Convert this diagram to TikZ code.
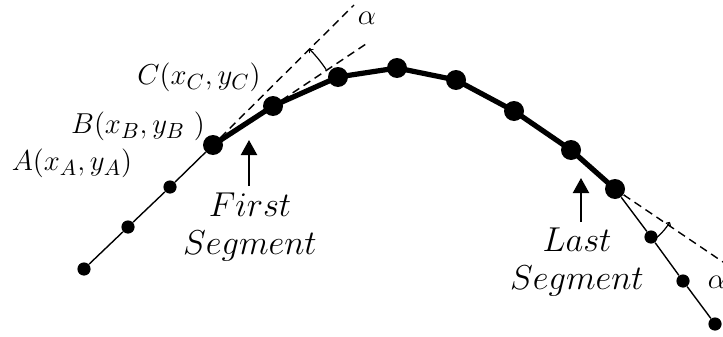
\documentclass[tikz,border=0pt]{standalone}
\usepackage{amsmath}
\usetikzlibrary{arrows.meta}

\begin{document}
\begin{tikzpicture}[
  x=0.5pt, y=-0.5pt,
  font=\fontsize{15}{19}\selectfont,
  bigdot/.style={circle, fill=black, inner sep=0pt, minimum width=9.5pt, minimum height=10pt},
  smalldot/.style={circle, fill=black, inner sep=0pt, minimum width=6pt, minimum height=6.6pt},
  thick seg/.style={line width=2.6pt, line cap=round, line join=round},
  thin seg/.style={line width=0.7pt},
  tangent/.style={line width=0.7pt, dash pattern=on 4pt off 2.6pt},
  anglemark/.style={line width=0.6pt, -{To[length=1.8pt,width=3pt]}},
  pointer/.style={line width=1.1pt, -{Triangle[length=7.5pt,width=8pt]}},
  lbl/.style={align=center, inner sep=0pt},
  seglbl/.style={align=center, inner sep=0pt, font=\fontsize{17.5}{19}\selectfont},
]
\useasboundingbox (0,0) rectangle (723,337);

% ===== thin lead-in (left) =====
\node[smalldot] (a1) at (84,269) {};
\node[smalldot] (a2) at (128,227) {};
\node[smalldot] (a3) at (170,187) {};

% ===== thick polyline =====
\node[bigdot] (p1) at (213,145) {};
\node[bigdot] (p2) at (273,106) {};
\node[bigdot] (p3) at (338,77) {};
\node[bigdot] (p4) at (397,68) {};
\node[bigdot] (p5) at (456,80) {};
\node[bigdot] (p6) at (514,111) {};
\node[bigdot] (p7) at (571,150) {};
\node[bigdot] (p8) at (615,189) {};

% ===== thin lead-out (right) =====
\node[smalldot] (b1) at (651,237) {};
\node[smalldot] (b2) at (683,281) {};
\node[smalldot] (b3) at (715,324) {};

\draw[thin seg] (a1) -- (a2) -- (a3) -- (p1);
\draw[thin seg] (p8) -- (b1) -- (b2) -- (b3);
\draw[thick seg] (p1.center) -- (p2.center) -- (p3.center) -- (p4.center)
  -- (p5.center) -- (p6.center) -- (p7.center) -- (p8.center);

% ===== tangents and angles =====
\coordinate (tanA) at (354,5);
\coordinate (tanB) at (369,42);
\coordinate (tanC) at (723,262);
\draw[tangent] (p1) -- (tanA);
\draw[tangent] (p2) -- (tanB);
\draw[tangent] (p8) -- (tanC);

\draw[anglemark] (p1.center) ++(-33.7:136) arc[start angle=-33.7, end angle=-45, radius=136];
\draw[anglemark] (p8.center) ++(53.5:64) arc[start angle=53.5, end angle=31, radius=64];

\node[lbl] (alphatop) at (367,18) {$\alpha$};
\node[lbl] (alpharight) at (717,282) {$\alpha$};

% ===== point labels =====
\node[lbl] (labC) at (199,77) {$C(x_C, y_C)$};
\node[lbl] (labB) at (138,126) {$B(x_B, y_B\ )$};
\node[lbl] (labA) at (72,163) {$A(x_A, y_A)$};

% ===== segment labels =====
\node[seglbl] (first) at (250,227) {$First$\\$Segment$};
\node[seglbl] (last) at (577,262) {$Last$\\$Segment$};

\coordinate (firstfoot) at (249,186);
\coordinate (firsttip) at (249,140);
\coordinate (lastfoot) at (581,222);
\coordinate (lasttip) at (581,178);
\draw[pointer] (firstfoot) -- (firsttip);
\draw[pointer] (lastfoot) -- (lasttip);

\end{tikzpicture}
\end{document}
